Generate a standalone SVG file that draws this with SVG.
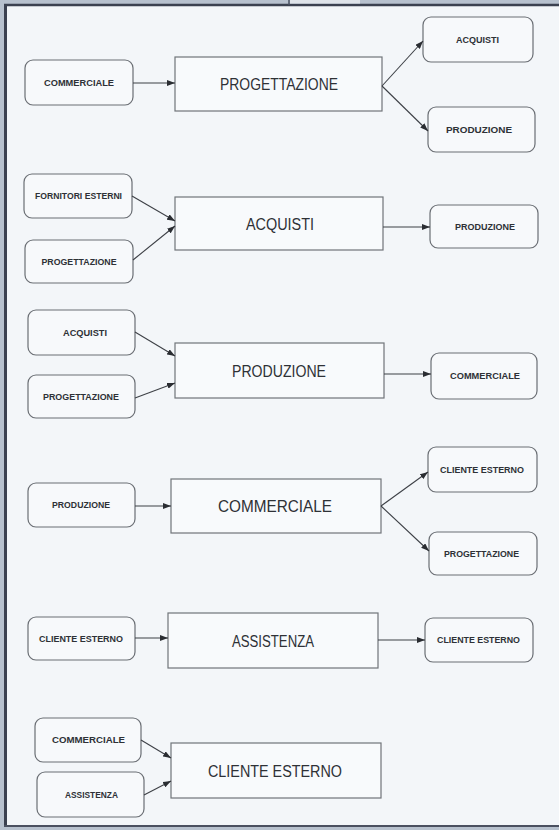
<svg xmlns="http://www.w3.org/2000/svg" width="559" height="830" viewBox="0 0 559 830">
<defs>
<style>
.bg{fill:#f3f6f9}
.sm rect{fill:#f7f9fb;stroke:#6a6e74;stroke-width:1.2}
.bg-node rect{fill:#f8fafc;stroke:#707479;stroke-width:1.2}
.sm text{font-family:"Liberation Sans",Arial,sans-serif;font-size:8.5px;fill:#2e3136;text-anchor:middle;font-weight:bold}
.bg-node text{font-family:"Liberation Sans",Arial,sans-serif;font-size:16px;fill:#2e3136;text-anchor:middle}
#connectors line{stroke:#3d4046;stroke-width:1.1;marker-end:url(#ah)}
</style>
<marker id="ah" markerUnits="userSpaceOnUse" markerWidth="8" markerHeight="6" refX="8" refY="3" orient="auto">
<path d="M0,0 L8,3 L0,6 z" fill="#2a2d32"/>
</marker>
</defs>
<rect x="0" y="0" width="559" height="830" fill="#b7c1ce"/>
<rect x="5" y="5" width="554" height="821" class="bg"/>
<line x1="5.5" y1="4" x2="5.5" y2="827" stroke="#3b4150" stroke-width="3"/>
<line x1="4" y1="5" x2="559" y2="5" stroke="#3b4150" stroke-width="2.5"/>
<line x1="4" y1="826" x2="559" y2="826" stroke="#4a5060" stroke-width="2"/>
<line x1="289" y1="0" x2="289" y2="5" stroke="#4a5060" stroke-width="1.5"/>
<rect x="290" y="0" width="70" height="3.5" fill="#dfe4ea"/>

<g id="r1-commerciale" class="sm"><rect x="25" y="60" width="108" height="45" rx="8"/><text x="79" y="85.5" textLength="70" lengthAdjust="spacingAndGlyphs">COMMERCIALE</text></g>
<g id="r1-progettazione" class="bg-node"><rect x="175" y="57" width="207" height="54"/><text x="279" y="89.5" textLength="118" lengthAdjust="spacingAndGlyphs">PROGETTAZIONE</text></g>
<g id="r1-acquisti" class="sm"><rect x="423" y="17" width="110" height="45" rx="8"/><text x="477.5" y="42.5" textLength="43" lengthAdjust="spacingAndGlyphs">ACQUISTI</text></g>
<g id="r1-produzione" class="sm"><rect x="428" y="107" width="107" height="45" rx="8"/><text x="479" y="132.5" textLength="66" lengthAdjust="spacingAndGlyphs">PRODUZIONE</text></g>

<g id="r2-fornitori" class="sm"><rect x="24" y="174" width="108" height="44" rx="8"/><text x="78.5" y="199" textLength="87" lengthAdjust="spacingAndGlyphs">FORNITORI ESTERNI</text></g>
<g id="r2-progettazione" class="sm"><rect x="25" y="240" width="108" height="43" rx="8"/><text x="79" y="264.5" textLength="75" lengthAdjust="spacingAndGlyphs">PROGETTAZIONE</text></g>
<g id="r2-acquisti" class="bg-node"><rect x="175" y="197" width="208" height="53"/><text x="280" y="229.5" textLength="68" lengthAdjust="spacingAndGlyphs">ACQUISTI</text></g>
<g id="r2-produzione" class="sm"><rect x="430" y="205" width="108" height="43" rx="8"/><text x="485" y="229.5" textLength="60" lengthAdjust="spacingAndGlyphs">PRODUZIONE</text></g>

<g id="r3-acquisti" class="sm"><rect x="28" y="310" width="107" height="45" rx="8"/><text x="85" y="335.5" textLength="44" lengthAdjust="spacingAndGlyphs">ACQUISTI</text></g>
<g id="r3-progettazione" class="sm"><rect x="28" y="375" width="107" height="43" rx="8"/><text x="81" y="399.5" textLength="76" lengthAdjust="spacingAndGlyphs">PROGETTAZIONE</text></g>
<g id="r3-produzione" class="bg-node"><rect x="175" y="343" width="209" height="55"/><text x="279" y="376.5" textLength="94" lengthAdjust="spacingAndGlyphs">PRODUZIONE</text></g>
<g id="r3-commerciale" class="sm"><rect x="431" y="353" width="106" height="46" rx="8"/><text x="485" y="379" textLength="70" lengthAdjust="spacingAndGlyphs">COMMERCIALE</text></g>

<g id="r4-produzione" class="sm"><rect x="28" y="483" width="107" height="44" rx="8"/><text x="81" y="508" textLength="58" lengthAdjust="spacingAndGlyphs">PRODUZIONE</text></g>
<g id="r4-commerciale" class="bg-node"><rect x="171" y="479" width="210" height="54"/><text x="275" y="512" textLength="114" lengthAdjust="spacingAndGlyphs">COMMERCIALE</text></g>
<g id="r4-cliente" class="sm"><rect x="428" y="447" width="109" height="45" rx="8"/><text x="482" y="472.5" textLength="84" lengthAdjust="spacingAndGlyphs">CLIENTE ESTERNO</text></g>
<g id="r4-progettazione" class="sm"><rect x="429" y="532" width="108" height="43" rx="8"/><text x="481.5" y="556.5" textLength="75" lengthAdjust="spacingAndGlyphs">PROGETTAZIONE</text></g>

<g id="r5-cliente-in" class="sm"><rect x="28" y="617" width="107" height="43" rx="8"/><text x="81" y="641.5" textLength="84" lengthAdjust="spacingAndGlyphs">CLIENTE ESTERNO</text></g>
<g id="r5-assistenza" class="bg-node"><rect x="168" y="613" width="210" height="55"/><text x="273" y="646.5" textLength="82" lengthAdjust="spacingAndGlyphs">ASSISTENZA</text></g>
<g id="r5-cliente-out" class="sm"><rect x="425" y="618" width="108" height="44" rx="8"/><text x="478.5" y="643" textLength="83" lengthAdjust="spacingAndGlyphs">CLIENTE ESTERNO</text></g>

<g id="r6-commerciale" class="sm"><rect x="35" y="718" width="106" height="44" rx="8"/><text x="88.5" y="743" textLength="73" lengthAdjust="spacingAndGlyphs">COMMERCIALE</text></g>
<g id="r6-assistenza" class="sm"><rect x="37" y="772" width="107" height="45" rx="8"/><text x="91.5" y="797.5" textLength="53" lengthAdjust="spacingAndGlyphs">ASSISTENZA</text></g>
<g id="r6-cliente" class="bg-node"><rect x="171" y="743" width="210" height="55"/><text x="275" y="776.5" textLength="134" lengthAdjust="spacingAndGlyphs">CLIENTE  ESTERNO</text></g>

<g id="connectors">
<line x1="133" y1="83" x2="175" y2="83"/>
<line x1="382" y1="86" x2="423" y2="41"/>
<line x1="382" y1="86" x2="428" y2="131"/>
<line x1="132" y1="196" x2="175" y2="221"/>
<line x1="133" y1="260" x2="175" y2="226"/>
<line x1="383" y1="227" x2="430" y2="227"/>
<line x1="135" y1="332" x2="175" y2="356"/>
<line x1="135" y1="398" x2="175" y2="383"/>
<line x1="384" y1="374" x2="431" y2="374"/>
<line x1="135" y1="506" x2="171" y2="506"/>
<line x1="381" y1="506" x2="428" y2="472"/>
<line x1="381" y1="506" x2="429" y2="551"/>
<line x1="135" y1="638" x2="168" y2="638"/>
<line x1="378" y1="640" x2="425" y2="640"/>
<line x1="141" y1="740" x2="171" y2="758"/>
<line x1="144" y1="795" x2="171" y2="781"/>
</g>
</svg>
